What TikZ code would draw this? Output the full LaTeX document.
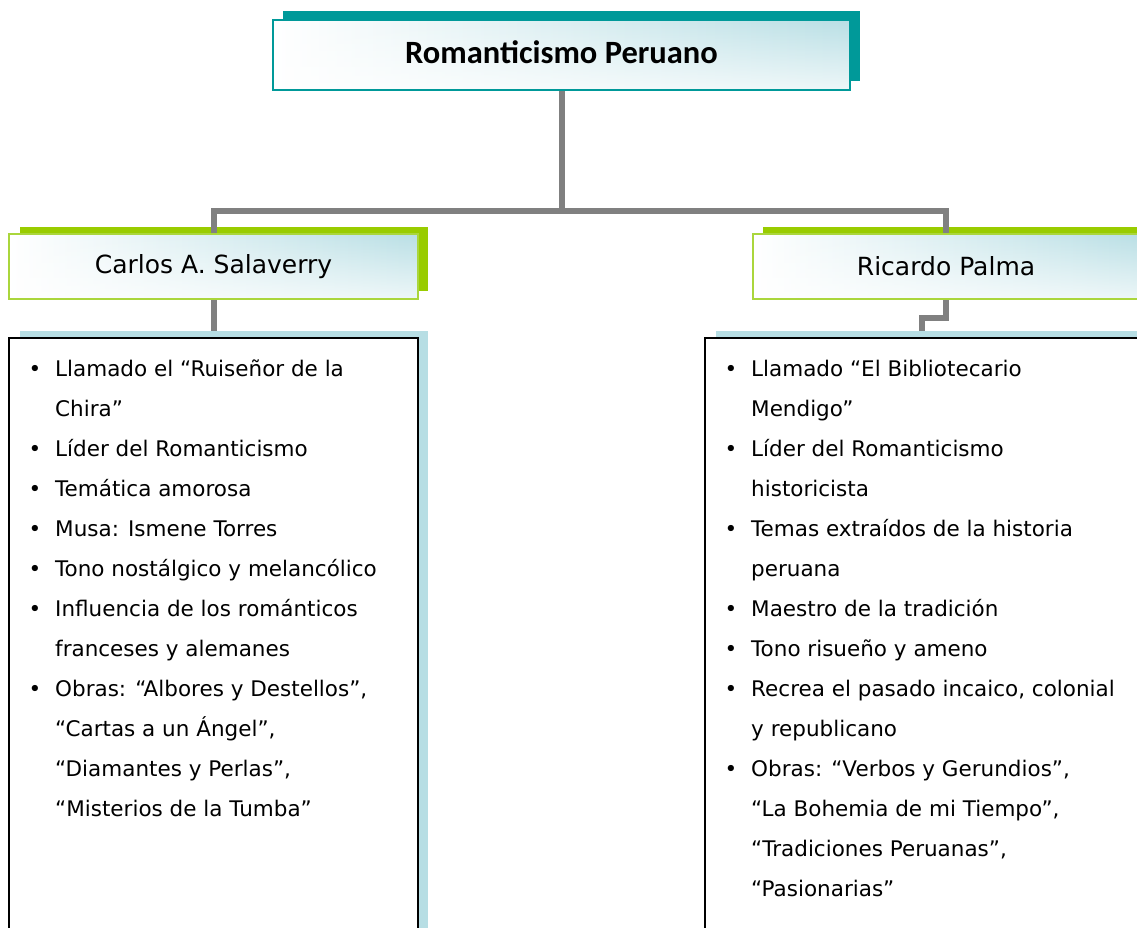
\documentclass[tikz,border=0pt]{standalone}
\usepackage{fontspec}
\usetikzlibrary{fadings}
\setmainfont{DejaVu Sans}
\newfontfamily\titlefont{Carlito}
\definecolor{tealc}{RGB}{0,153,153}
\definecolor{greenc}{RGB}{153,204,0}
\definecolor{greenb}{RGB}{170,214,60}
\definecolor{cyanc}{RGB}{183,222,228}
\definecolor{gradc}{RGB}{185,223,229}
\definecolor{grayc}{RGB}{128,128,128}
\begin{document}
\begin{tikzpicture}[x=1pt,y=-1pt,
  shadowbox/.style={rectangle,inner sep=0pt,draw=none},
  whitefade/.style={path picture={\fill[white,path fading=north,fill opacity=.75]
      (path picture bounding box.south west) rectangle (path picture bounding box.north east);}},
  tshadow/.style={shadowbox,fill=tealc,minimum width=577pt,minimum height=70pt},
  titlebox/.style={rectangle,inner sep=0pt,draw=tealc,line width=2pt,left color=white,right color=gradc,whitefade,
    minimum width=577pt,minimum height=70pt,font=\titlefont\bfseries\fontsize{32.5}{38}\selectfont},
  gshadow/.style={shadowbox,fill=greenc,minimum height=64pt},
  headbox/.style={rectangle,inner sep=0pt,draw=greenb,line width=2pt,left color=white,right color=gradc,whitefade,
    minimum height=65pt,font=\fontsize{25}{30}\selectfont},
  cshadow/.style={shadowbox,fill=cyanc,minimum height=629pt},
  listbox/.style={rectangle,inner sep=0pt,draw=black,line width=2pt,fill=white,minimum height=629pt},
  listtxt/.style={inner sep=0pt,anchor=base west,font=\fontsize{21.5}{40}\selectfont},
  bul/.style={inner sep=0pt,anchor=base,font=\fontsize{21.5}{40}\selectfont},
  conn/.style={draw=grayc,line width=6pt}
]
\useasboundingbox (0,0) rectangle (1137,927);
\clip (0,0) rectangle (1137,927);
\fill[white] (0,0) rectangle (1137,927);

% title
\node[tshadow] (tsh) at (571.5,46) {};
\node[titlebox] (title) at (561.5,55) {\raisebox{6pt}{Romanticismo Peruano}};

% headings
\node[gshadow,minimum width=408pt] (csh) at (224,259) {};
\node[headbox,minimum width=409pt] (carlos) at (213.5,266.5) {Carlos A. Salaverry};
\node[gshadow,minimum width=386pt] (psh) at (956,259) {};
\node[headbox,minimum width=386pt] (palma) at (946,266.5) {Ricardo Palma};

% list boxes
\node[cshadow,minimum width=408pt] (lsh) at (224,645.5) {};
\node[listbox,minimum width=409pt] (llist) at (213.5,652.5) {};
\node[cshadow,minimum width=434pt] (rsh) at (933,645.5) {};
\node[listbox,minimum width=445pt] (rlist) at (927.5,652.5) {};

% connectors
\coordinate (j) at (561.5,211);
\coordinate (rb) at (922,318);
\draw[conn] (title.south) -- (j);
\draw[conn] (j) -| (carlos.north);
\draw[conn] (j) -| (palma.north);
\draw[conn] (carlos.south) -- (carlos.south |- lsh.north);
\draw[conn] (palma.south) |- (rb) -- (rb |- rsh.north);

% left list
\foreach \b/\t [count=\i] in {
  1/{Llamado el “Ruiseñor de la},
  0/{Chira”},
  1/{Líder del Romanticismo},
  1/{Temática amorosa},
  1/{Musa: Ismene Torres},
  1/{Tono nostálgico y melancólico},
  1/{Influencia de los románticos},
  0/{franceses y alemanes},
  1/{Obras: “Albores y Destellos”,},
  0/{“Cartas a un Ángel”,},
  0/{“Diamantes y Perlas”,},
  0/{“Misterios de la Tumba”}}{
  \node[listtxt] (lt\i) at (55,{376+40*(\i-1)}) {\t};
  \ifnum\b=1 \node[bul] (lb\i) at (35,{376+40*(\i-1)}) {•}; \fi
}

% right list
\foreach \b/\t [count=\i] in {
  1/{Llamado “El Bibliotecario},
  0/{Mendigo”},
  1/{Líder del Romanticismo},
  0/{historicista},
  1/{Temas extraídos de la historia},
  0/{peruana},
  1/{Maestro de la tradición},
  1/{Tono risueño y ameno},
  1/{Recrea el pasado incaico, colonial},
  0/{y republicano},
  1/{Obras: “Verbos y Gerundios”,},
  0/{“La Bohemia de mi Tiempo”,},
  0/{“Tradiciones Peruanas”,},
  0/{“Pasionarias”}}{
  \node[listtxt] (rt\i) at (751,{376+40*(\i-1)}) {\t};
  \ifnum\b=1 \node[bul] (rbul\i) at (731,{376+40*(\i-1)}) {•}; \fi
}
\end{tikzpicture}
\end{document}
